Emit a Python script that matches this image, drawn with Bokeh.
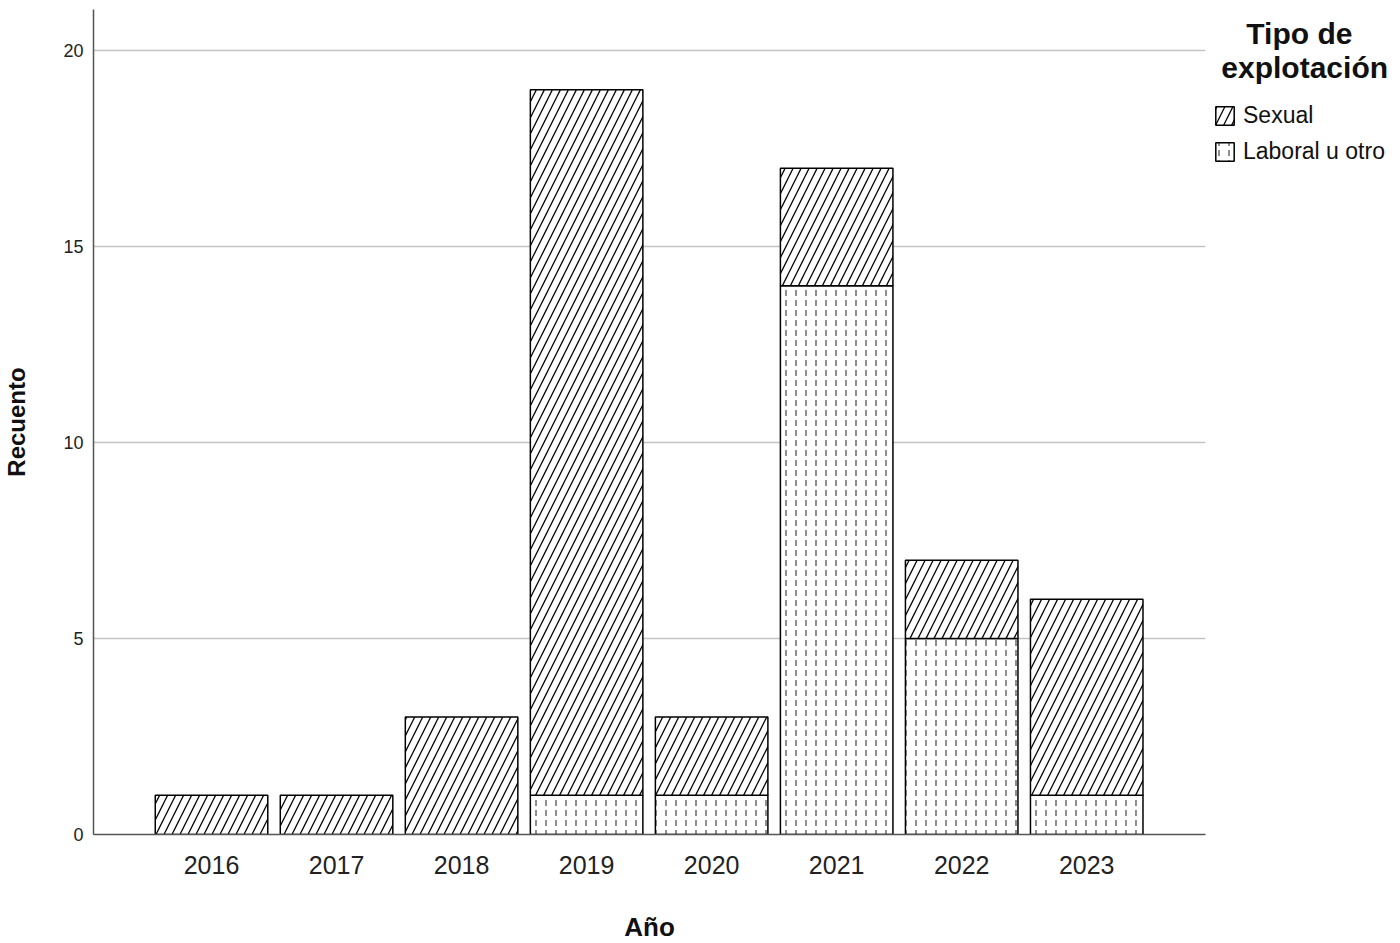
from bokeh.plotting import figure
from bokeh.models import ColumnDataSource, Range1d, FixedTicker, Legend, LegendItem
from bokeh.embed import file_html
from bokeh.resources import INLINE

years = [2016, 2017, 2018, 2019, 2020, 2021, 2022, 2023]
sexual = [1, 1, 3, 18, 2, 3, 2, 5]
laboral = [0, 0, 0, 1, 1, 14, 5, 1]
y_ticks = [0, 5, 10, 15, 20]

FONT = "Liberation Sans"
NB = "\u00a0"

src = ColumnDataSource(dict(x=years, laboral=laboral, sexual=sexual))

p = figure(frame_width=1112, frame_height=825, output_backend="svg", toolbar_location=None,
           x_range=Range1d(2015.056, 2023.95), y_range=Range1d(0, 21.05),
           min_border_left=93, min_border_top=9, min_border_right=185, min_border_bottom=100)
p.outline_line_color = None
p.background_fill_color = "white"

rs = p.vbar_stack(["laboral", "sexual"], x="x", width=0.9, source=src,
                  fill_color="white", line_color="black", line_width=1.5,
                  hatch_pattern=["vertical_dash", "right_diagonal_line"],
                  hatch_color=["#444444", "black"], hatch_scale=[10, 16],
                  hatch_weight=[1.2, 1.3])

p.xaxis.ticker = FixedTicker(ticks=years)
p.yaxis.ticker = FixedTicker(ticks=y_ticks)
for ax in (p.xaxis, p.yaxis):
    ax.major_tick_in = 0
    ax.major_tick_out = 0
    ax.minor_tick_in = 0
    ax.minor_tick_out = 0
    ax.axis_line_color = "#555555"
    ax.axis_line_width = 1.5
    ax.major_label_text_font = FONT
    ax.major_label_text_color = "#222222"
    ax.axis_label_text_font = FONT
    ax.axis_label_text_font_style = "bold"
    ax.axis_label_text_color = "#111111"
p.xaxis.major_label_text_font_size = "25px"
p.yaxis.major_label_text_font_size = "18px"
p.xaxis.major_label_standoff = 21
p.yaxis.major_label_standoff = 10
p.xaxis.axis_label = "Año"
p.yaxis.axis_label = "Recuento"
p.xaxis.axis_label_text_font_size = "26px"
p.yaxis.axis_label_text_font_size = "24px"
p.xaxis.axis_label_standoff = 35
p.yaxis.axis_label_standoff = 30
p.xgrid.grid_line_color = None
p.ygrid.grid_line_color = "#c4c4c4"
p.ygrid.grid_line_width = 1.5

legend = Legend(items=[LegendItem(label="Sexual", renderers=[rs[1]]),
                       LegendItem(label="Laboral u otro", renderers=[rs[0]])],
                location="top_left", orientation="vertical",
                title=NB * 4 + "Tipo de\n" + NB + "explotación", title_text_font=FONT,
                title_text_font_style="bold", title_text_font_size="30px",
                title_text_color="#111111", title_standoff=17,
                glyph_width=23, glyph_height=23, label_text_font=FONT,
                label_text_font_size="23px", label_text_color="#111111",
                label_standoff=7, spacing=9,
                padding=0, margin=8, border_line_color=None, background_fill_alpha=0)
p.add_layout(legend, "right")

open("out.html", "w").write(file_html(p, INLINE))
